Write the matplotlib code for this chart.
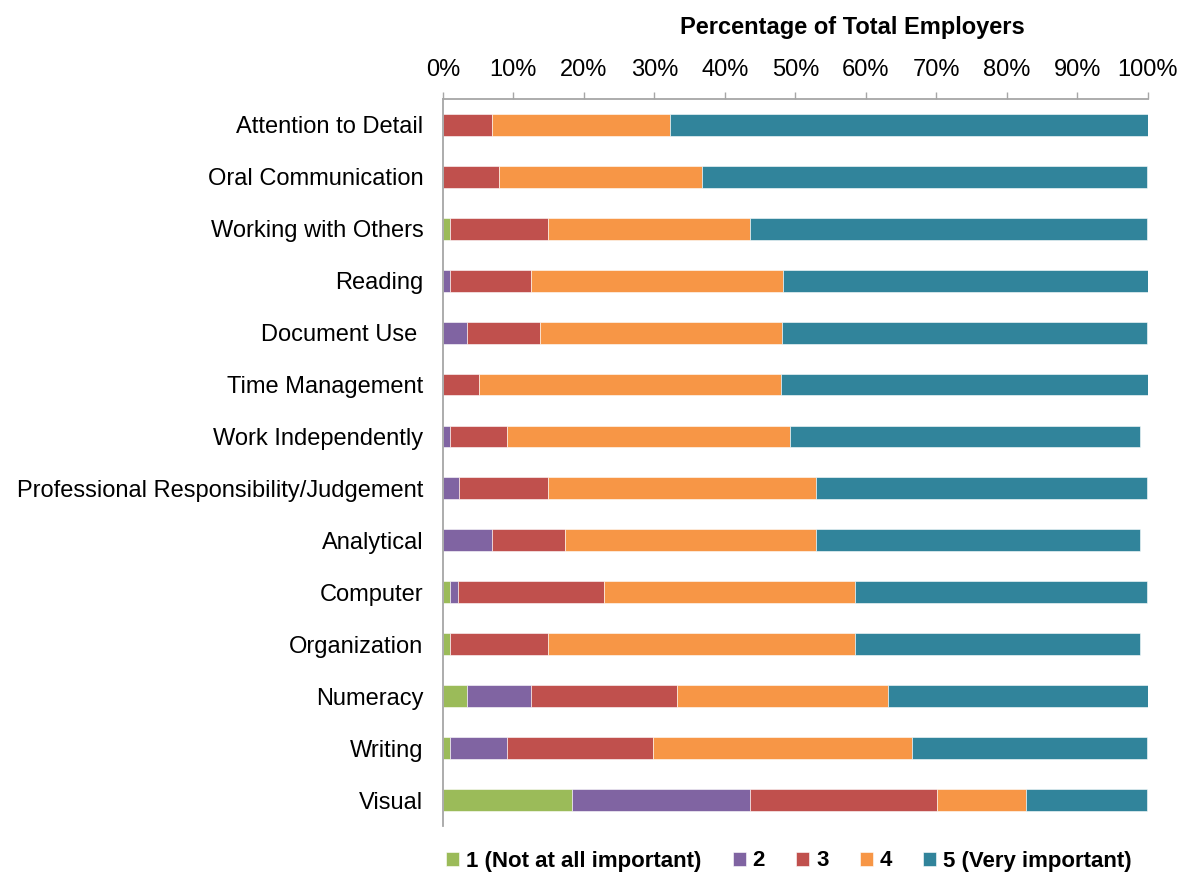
import numpy as np
import matplotlib.pyplot as plt
from matplotlib.ticker import PercentFormatter

plt.rcParams['font.family'] = ['Liberation Sans', 'DejaVu Sans']

skills = ['Attention to Detail', 'Oral Communication', 'Working with Others', 'Reading',
          'Document Use ', 'Time Management', 'Work Independently',
          'Professional Responsibility/Judgement', 'Analytical', 'Computer',
          'Organization', 'Numeracy', 'Writing', 'Visual']

# percentage of employers for each rating
r1 = [0, 0, 1.0, 0, 0, 0, 0, 0, 0, 1.0, 1.0, 3.4, 1.0, 18.3]
r2 = [0, 0, 0, 1.0, 3.4, 0, 1.0, 2.3, 6.9, 1.1, 0, 9.1, 8.1, 25.3]
r3 = [7.0, 8.0, 13.9, 11.5, 10.4, 5.1, 8.1, 12.6, 10.4, 20.7, 13.9, 20.7, 20.7, 26.5]
r4 = [25.2, 28.7, 28.7, 35.8, 34.3, 42.9, 40.1, 38.0, 35.6, 35.7, 43.6, 30.0, 36.7, 12.6]
r5 = [67.8, 63.1, 56.2, 51.7, 51.7, 52.0, 49.7, 46.9, 46.0, 41.3, 40.4, 36.8, 33.3, 17.1]

series = [r1, r2, r3, r4, r5]
labels = ['1 (Not at all important)', '2', '3', '4', '5 (Very important)']
colors = ['#9bbb59', '#8064a2', '#c0504d', '#f79646', '#31849b']

fig = plt.figure(figsize=(11.81, 8.75), dpi=100)
ax = fig.add_axes([0.375, 0.056, 0.597, 0.831])

y = np.arange(len(skills))
left = np.zeros(len(skills))
for vals, lab, col in zip(series, labels, colors):
    vals = np.array(vals)
    ax.barh(y, vals, left=left, height=0.42, color=col, label=lab,
            edgecolor='white', linewidth=0.4)
    left += vals

ax.set_xlim(0, 100)
ax.set_ylim(len(skills) - 0.5, -0.5)
ax.set_yticks(y)
ax.set_yticklabels(skills, fontsize=17)
ax.set_xticks(np.arange(0, 101, 10))
ax.xaxis.set_major_formatter(PercentFormatter(decimals=0))
ax.xaxis.tick_top()
ax.tick_params(axis='x', labelsize=17, length=5, width=1, color='#a6a6a6',
               direction='out', pad=8)
ax.tick_params(axis='y', length=0, pad=14)

for s in ['right', 'bottom']:
    ax.spines[s].set_visible(False)
for s in ['left', 'top']:
    ax.spines[s].set_color('#a6a6a6')
    ax.spines[s].set_linewidth(1.3)

fig.text(0.722, 0.969, 'Percentage of Total Employers', ha='center', va='center',
         fontsize=17, fontweight='bold')

fig.legend(loc='center', bbox_to_anchor=(0.668, 0.016), ncol=5, frameon=False,
           prop={'size': 16, 'weight': 'bold'}, handlelength=0.6, handleheight=0.6,
           handletextpad=0.3, columnspacing=1.4)

fig.savefig('out.png', dpi=100)
